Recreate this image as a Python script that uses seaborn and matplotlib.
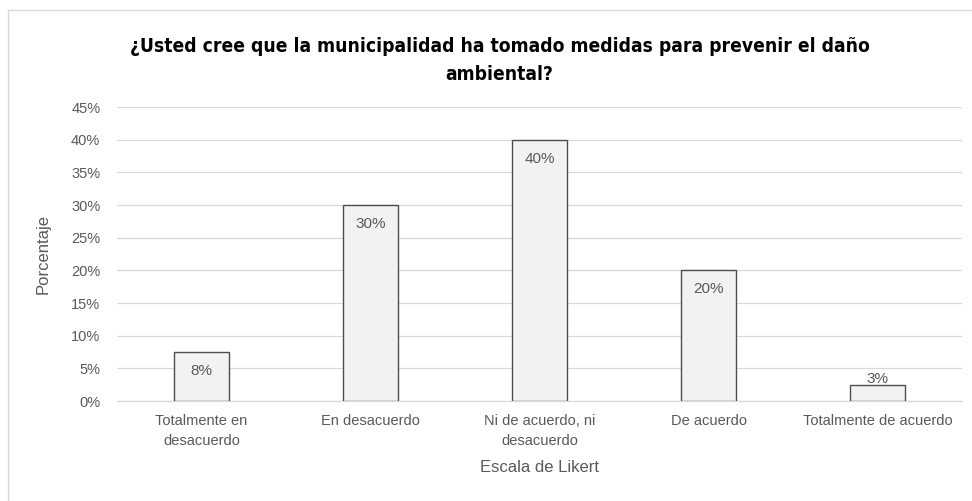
import matplotlib
matplotlib.use("Agg")
import matplotlib.pyplot as plt
import seaborn as sns
import pandas as pd
from matplotlib.patches import Rectangle
from matplotlib.ticker import MultipleLocator, FuncFormatter

categorias = ["Totalmente en\ndesacuerdo", "En desacuerdo", "Ni de acuerdo, ni\ndesacuerdo",
              "De acuerdo", "Totalmente de acuerdo"]
porcentajes = [7.5, 30, 40, 20, 2.5]

titulo = "¿Usted cree que la municipalidad ha tomado medidas para prevenir el daño\nambiental?"
eje_x = "Escala de Likert"
eje_y = "Porcentaje"

sns.set_theme(style="white")
plt.rcParams["font.family"] = ["Liberation Sans", "DejaVu Sans"]

df = pd.DataFrame({"cat": categorias, "pct": porcentajes})

fig = plt.figure(figsize=(9.72, 5.01), dpi=100)
ax = fig.add_axes([0.1204, 0.1996, 0.8693, 0.5868])

sns.barplot(data=df, x="cat", y="pct", ax=ax, color="#f2f2f2", saturation=1,
            width=0.325, edgecolor="#4d4d4d", linewidth=1.0, zorder=3)

ax.set_ylim(0, 45)
ax.set_xlim(-0.5, len(categorias) - 0.5)
ax.yaxis.set_major_locator(MultipleLocator(5))
ax.yaxis.set_major_formatter(FuncFormatter(lambda v, p: f"{int(v)}%"))
ax.grid(axis="y", color="#d9d9d9", linewidth=0.9, zorder=0)
ax.grid(axis="x", visible=False)
for s in ["top", "right", "left"]:
    ax.spines[s].set_visible(False)
ax.spines["bottom"].set_color("#d9d9d9")
ax.spines["bottom"].set_linewidth(0.9)
ax.tick_params(axis="both", length=0, colors="#595959", labelsize=10.5)
ax.tick_params(axis="y", pad=12)
ax.tick_params(axis="x", pad=9)
for lbl in ax.get_xticklabels():
    lbl.set_linespacing(1.55)

ax.set_xlabel(eje_x, color="#595959", fontsize=12, labelpad=9)
ax.set_ylabel(eje_y, color="#595959", fontsize=12, labelpad=15)

for i, v in enumerate(porcentajes):
    y = max(v - 2.9, 3.4)
    ax.text(i, y, f"{int(v + 0.5)}%", ha="center", va="center",
            fontsize=11, color="#595959", zorder=4)

fig.text(0.514, 0.880, titulo, ha="center", va="center", fontsize=13.8,
         fontweight="bold", fontstretch="condensed", color="#000000", linespacing=1.6,
         family=["Liberation Sans Narrow", "DejaVu Sans", "Liberation Sans"])

fig.patches.append(Rectangle((8 / 972, -0.02), 1.1, 1 - 10 / 501 + 0.02,
                             transform=fig.transFigure, fill=False,
                             edgecolor="#d9d9d9", linewidth=1.0))

fig.savefig("out.png", dpi=100)
